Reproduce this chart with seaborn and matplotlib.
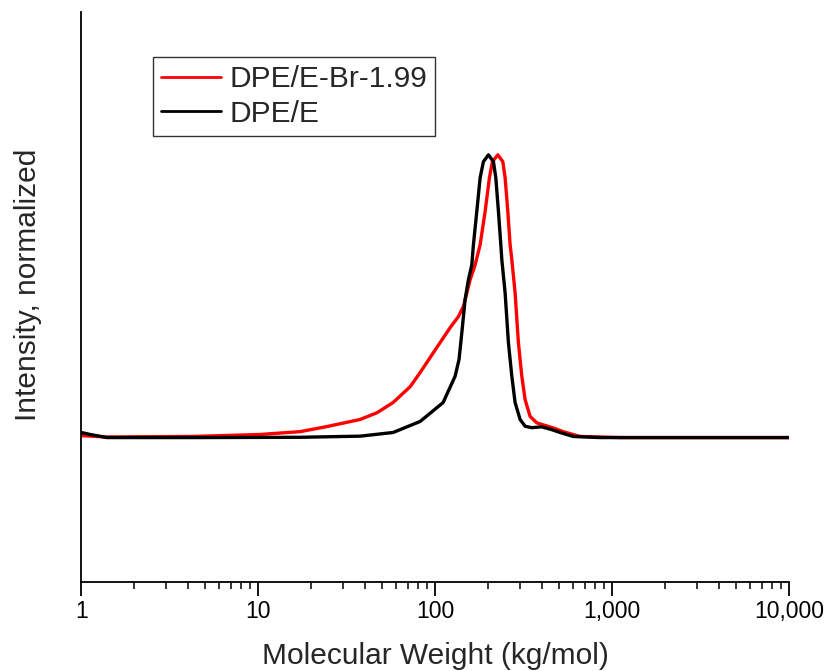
"""
GPC traces: DPE/E vs DPE/E-Br-1.99, normalized intensity vs molecular weight.
"""
import numpy as np
import pandas as pd
import seaborn as sns
import matplotlib.pyplot as plt
from matplotlib.ticker import LogLocator, NullFormatter

#--------------------------
# DATA
#--------------------------
series_names = ["DPE/E-Br-1.99", "DPE/E"]
series_colors = ["#ff0000", "#000000"]

# DPE/E-Br-1.99
mw_br = [1.0, 1.40, 4.29, 10.26, 17.3, 24.5, 37.7, 47.0, 57.9, 72.3, 82.3, 106.7,
         122.0, 135.4, 144.5, 151.1, 157.7, 168.3, 179.6, 191.7, 202.7, 210.8, 226.1,
         241.2, 248.6, 257.5, 265.3, 271.3, 283.1, 295.5, 308.9, 322.5, 344.1, 375.5,
         418.2, 466.0, 528.8, 659.6, 1110, 10000]
int_br = [0.007, 0.002, 0.004, 0.011, 0.021, 0.039, 0.064, 0.088, 0.124, 0.180, 0.230,
          0.336, 0.390, 0.428, 0.464, 0.512, 0.558, 0.611, 0.682, 0.800, 0.919, 0.976,
          1.0, 0.976, 0.919, 0.800, 0.682, 0.629, 0.512, 0.336, 0.217, 0.134, 0.075,
          0.052, 0.043, 0.034, 0.021, 0.004, 0.0, 0.0]

# DPE/E
mw_e = [1.0, 1.124, 1.40, 4.70, 17.3, 37.7, 57.9, 82.3, 111.0, 129.7, 136.5, 141.5,
        147.7, 154.2, 161.2, 164.6, 172.0, 179.6, 187.5, 200.1, 213.5, 220.3, 227.9,
        235.1, 238.2, 248.6, 259.5, 271.3, 283.1, 302.1, 322.5, 351.8, 400.6, 456.2,
        508.4, 602.1, 855.3, 10000]
int_e = [0.018, 0.011, 0.0, 0.0, 0.001, 0.005, 0.018, 0.057, 0.124, 0.217, 0.276,
         0.370, 0.488, 0.558, 0.611, 0.682, 0.800, 0.919, 0.976, 1.0, 0.976, 0.919,
         0.800, 0.682, 0.629, 0.512, 0.336, 0.217, 0.124, 0.064, 0.040, 0.035, 0.038,
         0.028, 0.018, 0.004, 0.0, 0.0]

xtick_vals = [1, 10, 100, 1000, 10000]
xtick_labels = ["1", "10", "100", "1,000", "10,000"]

df = pd.concat([
    pd.DataFrame({"mw": mw_br, "intensity": int_br, "sample": series_names[0]}),
    pd.DataFrame({"mw": mw_e, "intensity": int_e, "sample": series_names[1]}),
], ignore_index=True)

#--------------------------
# PLOT
#--------------------------
sns.set_style("ticks")
plt.rcParams['font.family'] = ['Liberation Sans', 'DejaVu Sans']

fig = plt.figure(figsize=(8.28, 6.71), dpi=100)
ax = fig.add_axes([0.098, 0.133, 0.855, 0.849])

sns.lineplot(data=df, x="mw", y="intensity", hue="sample", hue_order=series_names,
             palette=series_colors, estimator=None, sort=False, linewidth=2.4,
             solid_joinstyle="round", ax=ax)

ax.set_xscale("log")
ax.set_xlim(1, 10000)
ax.set_ylim(-0.51, 1.505)
ax.set_xticks(xtick_vals, xtick_labels)
ax.xaxis.set_minor_locator(LogLocator(base=10, subs=np.arange(2, 10)))
ax.xaxis.set_minor_formatter(NullFormatter())
ax.set_yticks([])

ax.tick_params(axis="x", which="major", direction="out", length=10, width=1.3,
               labelsize=16.5, pad=3, colors="black")
ax.tick_params(axis="x", which="minor", direction="out", length=5, width=1.3)

for side in ["top", "right"]:
    ax.spines[side].set_visible(False)
for side in ["left", "bottom"]:
    ax.spines[side].set_linewidth(1.3)
    ax.spines[side].set_color("black")

ax.set_xlabel("Molecular Weight (kg/mol)", fontsize=21.5, labelpad=14)
ax.set_ylabel("Intensity, normalized", fontsize=21.5, labelpad=28)
ax.yaxis.label.set_y(0.521)

leg = ax.legend(loc="upper left", bbox_to_anchor=(0.102, 0.921), borderaxespad=0,
                fontsize=21.5, frameon=True, fancybox=False, framealpha=1,
                edgecolor="#333333", handlelength=2.0, handletextpad=0.27,
                borderpad=0.27, labelspacing=0.22)
leg.get_frame().set_linewidth(1.0)
for line in leg.get_lines():
    line.set_linewidth(2)

plt.savefig("out.png", dpi=100)
